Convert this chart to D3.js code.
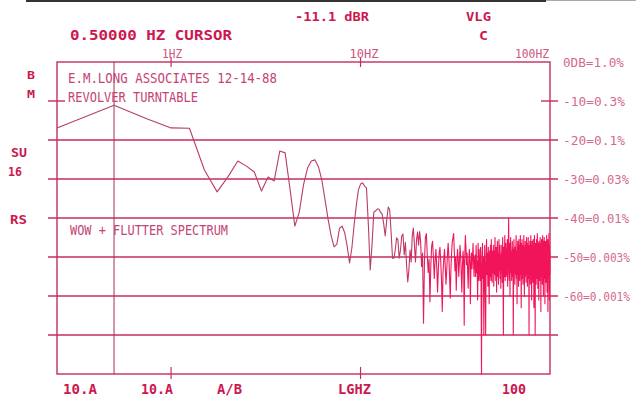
<!DOCTYPE html>
<html>
<head>
<meta charset="utf-8">
<script src="https://cdn.jsdelivr.net/npm/d3@7"></script>
<style>
  body { margin: 0; background: #fff; }
  svg { display: block; }
  text { font-family: "DejaVu Sans Mono", monospace; }
</style>
</head>
<body>
<svg id="chart" width="636" height="400"></svg>
<script>
// spectrum: one level per 0.25 Hz FFT bin, from 0.25 Hz to 100 Hz (dB re. 1.0%)
const binHz = 0.25;
const levelDb = [
  -16.9, -11.1, -14.6, -16.9, -17.0, -27.7, -33.3, -29.4, -25.4, -26.7,
  -28.2, -33.1, -29.5, -30.5, -22.8, -23.3, -32.8, -42.1, -38.5, -31.5,
  -27.2, -25.4, -25.1, -26.9, -30.3, -35.4, -40.5, -44.6, -47.4, -46.7,
  -42.6, -42.1, -43.8, -47.2, -51.5, -47.7, -41.8, -36.7, -32.8, -31.3,
  -31.0, -31.8, -32.3, -41.8, -53.3, -46.9, -38.5, -38.2, -37.7, -37.7,
  -38.5, -39.0, -41.5, -44.6, -40.5, -37.2, -37.9, -43.6, -50.3, -50.3,
  -48.2, -45.1, -45.6, -50.3, -48.2, -44.6, -44.1, -49.5, -46.2, -52.1,
  -56.4, -53.3, -48.2, -51.3, -44.6, -42.6, -46.9, -51.3, -45.6, -43.6,
  -47.0, -43.5, -46.0, -52.5, -49.0, -67.0, -51.0, -45.0, -44.0, -49.5,
  -54.0, -50.5, -61.5, -52.0, -47.0, -46.0, -50.0, -55.5, -51.0, -48.0,
  -52.5, -59.0, -53.0, -49.0, -47.5, -51.0, -56.0, -64.0, -54.0, -50.5,
  -48.0, -52.5, -57.0, -53.5, -49.5, -46.5, -50.0, -55.0, -60.5, -53.0,
  -49.0, -46.0, -45.0, -44.0, -48.5, -53.5, -50.0, -58.5, -52.0, -48.0,
  -50.5, -55.0, -51.5, -47.0, -49.5, -54.0, -59.0, -52.5, -48.5, -51.0,
  -67.5, -50.0, -44.5, -47.5, -52.0, -49.0, -53.5, -58.0, -51.5, -48.0,
  -50.5, -62.0, -52.0, -49.0, -53.0, -50.0, -46.5, -51.5, -55.0, -50.5,
  -49.5, -55.0, -47.0, -54.0, -51.0, -61.0, -46.5, -56.0, -48.0, -53.5,
  -56.0, -47.5, -54.5, -80.0, -51.0, -46.5, -55.5, -50.0, -70.0, -53.0,
  -47.0, -56.5, -70.0, -51.0, -45.5, -54.5, -49.0, -57.5, -47.5, -53.5,
  -62.0, -48.5, -55.0, -47.0, -56.0, -45.5, -53.0, -56.5, -48.5, -54.0,
  -47.0, -57.5, -48.5, -54.5, -45.0, -52.5, -56.0, -47.5, -59.0, -51.0,
  -46.0, -55.0, -49.0, -57.0, -45.5, -53.5, -47.0, -55.5, -49.5, -58.0,
  -47.0, -54.0, -49.0, -56.5, -45.0, -53.0, -70.0, -47.5, -55.0, -49.5,
  -44.5, -56.0, -50.0, -46.5, -55.0, -48.0, -54.5, -45.5, -57.5, -49.5,
  -47.0, -40.0, -54.5, -56.0, -46.5, -60.0, -49.5, -45.0, -54.0, -48.5,
  -56.0, -50.0, -46.0, -55.0, -48.0, -70.0, -53.5, -45.5, -54.0, -47.5,
  -57.0, -47.5, -54.5, -49.0, -44.5, -55.5, -48.5, -62.0, -52.0, -46.0,
  -54.5, -48.0, -57.5, -45.5, -53.5, -47.0, -56.0, -49.5, -44.5, -54.5,
  -48.5, -63.0, -46.5, -53.5, -45.5, -55.5, -48.0, -57.0, -47.0, -54.0,
  -44.5, -53.0, -60.0, -47.5, -55.0, -46.0, -53.5, -47.0, -56.5, -49.5,
  -45.0, -54.5, -47.5, -57.5, -46.5, -53.5, -45.0, -55.5, -49.0, -70.0,
  -47.0, -54.5, -46.0, -53.0, -57.0, -48.5, -44.5, -54.0, -47.0, -61.0,
  -49.5, -46.0, -55.0, -48.0, -56.5, -45.5, -53.5, -47.0, -63.0, -52.0,
  -44.5, -54.5, -48.0, -70.0, -46.5, -54.0, -48.5, -57.0, -45.5, -53.5,
  -47.0, -55.5, -44.0, -52.5, -58.0, -46.5, -54.0, -48.5, -61.0, -46.0,
  -53.5, -47.5, -56.0, -49.0, -45.0, -54.5, -47.5, -64.0, -46.5, -53.5,
  -45.5, -55.0, -48.0, -57.0, -46.5, -44.5, -53.5, -47.5, -60.0, -46.0,
  -54.0, -48.5, -45.0, -55.5, -47.0, -62.0, -49.0, -46.0, -54.5, -47.5,
  -56.5, -46.0, -53.5, -44.5, -52.5, -59.0, -46.5, -54.0, -45.5, -64.0,
  -53.0, -46.5, -55.0, -48.0, -44.0, -53.5, -61.0, -47.0, -54.5, -49.0
];

const freqTicks = [1, 10, 100];
const freqTickLabels = ["1HZ", "10HZ", "100HZ"];
const dbTicks = [0, -10, -20, -30, -40, -50, -60];
const dbTickLabels = ["0DB=1.0%", "-10=0.3%", "-20=0.1%", "-30=0.03%", "-40=0.01%", "-50=0.003%", "-60=0.001%"];
const gridDb = [-20, -30, -40, -50, -60, -70];
const cursorHz = 0.5;

const svg = d3.select("#chart");
const grid = "#c42e5e";
const pink = "#cc5582";
const red = "#cc1850";

const x = d3.scaleLog().domain([0.25, 100]).range([57, 550]);
const y = d3.scaleLinear().domain([0, -80]).range([62, 374]);

// scan edge at the top
svg.append("rect").attr("x", 26).attr("y", 0).attr("width", 520).attr("height", 2).attr("fill", "#333");
svg.append("rect").attr("x", 546).attr("y", 0).attr("width", 90).attr("height", 1).attr("fill", "#aaa");

// gridlines
svg.selectAll(".grid")
  .data(gridDb)
  .enter()
  .append("line")
  .attr("x1", 48).attr("x2", 558)
  .attr("y1", d => y(d)).attr("y2", d => y(d))
  .attr("stroke", grid).attr("stroke-width", 1.4);

// -10 dB only has short ticks
[[48, 65], [541, 558]].forEach(s => {
  svg.append("line")
    .attr("x1", s[0]).attr("x2", s[1])
    .attr("y1", y(-10)).attr("y2", y(-10))
    .attr("stroke", grid).attr("stroke-width", 1.4);
});

// frame
svg.append("rect")
  .attr("x", x(0.25)).attr("y", y(0))
  .attr("width", x(100) - x(0.25)).attr("height", y(-80) - y(0))
  .attr("fill", "none").attr("stroke", grid).attr("stroke-width", 1.4);

// cursor
svg.append("line")
  .attr("x1", x(cursorHz)).attr("x2", x(cursorHz))
  .attr("y1", y(0)).attr("y2", y(-80))
  .attr("stroke", "#a83058").attr("stroke-width", 1);

// decade ticks on top and bottom
svg.selectAll(".ttick")
  .data(freqTicks.slice(0, 2))
  .enter()
  .append("line")
  .attr("x1", d => x(d)).attr("x2", d => x(d))
  .attr("y1", 57).attr("y2", 67)
  .attr("stroke", grid).attr("stroke-width", 1.2);
svg.selectAll(".btick")
  .data(freqTicks.slice(0, 2))
  .enter()
  .append("line")
  .attr("x1", d => x(d)).attr("x2", d => x(d))
  .attr("y1", 367).attr("y2", 379)
  .attr("stroke", grid).attr("stroke-width", 1.2);

// trace
const defs = svg.append("defs");
const grad = defs.append("linearGradient")
  .attr("id", "trace").attr("gradientUnits", "userSpaceOnUse")
  .attr("x1", x(0.25)).attr("x2", x(100)).attr("y1", 0).attr("y2", 0);
grad.append("stop").attr("offset", (x(16) - x(0.25)) / (x(100) - x(0.25))).attr("stop-color", "#b83c68");
grad.append("stop").attr("offset", (x(26) - x(0.25)) / (x(100) - x(0.25))).attr("stop-color", "#f2145a");

const line = d3.line()
  .x((d, i) => x((i + 1) * binHz))
  .y(d => y(d));

svg.append("path")
  .datum(levelDb)
  .attr("d", line)
  .attr("fill", "none")
  .attr("stroke", "url(#trace)")
  .attr("stroke-width", 1.1)
  .attr("stroke-linejoin", "round");

// text helper
function label(str, px, py, size, width, color, bold) {
  const t = svg.append("text")
    .text(str)
    .attr("x", px).attr("y", py)
    .attr("font-size", size)
    .attr("fill", color)
    .attr("font-weight", bold ? "bold" : "normal");
  if (width) t.attr("textLength", width).attr("lengthAdjust", "spacingAndGlyphs");
  return t;
}

// frequency labels
const freqLabelX = [x(1) - 9, x(10) - 11, x(100) - 35];
const freqLabelW = [20, 29, 34];
freqTickLabels.forEach((s, i) => label(s, freqLabelX[i], 58, 13, freqLabelW[i], pink, false));

// dB labels on the right
const dbLabelW = [61, 62, 62, 66, 66, 67, 67];
svg.selectAll(".dblab")
  .data(dbTicks)
  .enter()
  .append("text")
  .text((d, i) => dbTickLabels[i])
  .attr("x", 563)
  .attr("y", d => y(d) + 4.5)
  .attr("font-size", 11.5)
  .attr("textLength", (d, i) => dbLabelW[i])
  .attr("lengthAdjust", "spacingAndGlyphs")
  .attr("fill", "#d46a92");

// header
label("-11.1 dBR", 295, 21, 12, 74, red, true);
label("VLG", 466, 21, 12, 25, red, true);
label("C", 479, 40, 13, 9, red, true);
label("0.50000 HZ CURSOR", 70, 40, 13.5, 162, red, true);

// notes inside the plot
label("E.M.LONG ASSOCIATES  12-14-88", 68, 83, 14.5, 209, "#c44476", false);
label("REVOLVER TURNTABLE", 68, 102, 14.5, 130, "#c44476", false);
label("WOW + FLUTTER SPECTRUM", 70, 235, 14.5, 158, "#c44476", false);

// left side labels
label("B", 27, 79, 11, 8, red, true);
label("M", 27, 98, 11, 8, red, true);
label("SU", 11, 157, 13, 16, red, true);
label("16", 8, 176, 13, 14, red, true);
label("RS", 10, 224, 13, 17, red, true);

// bottom labels
label("10.A", 63, 394, 14, 34, red, true);
label("10.A", 141, 394, 14, 32, red, true);
label("A/B", 217, 394, 14, 25, red, true);
label("LGHZ", 338, 394, 14, 33, red, true);
label("100", 502, 394, 14, 24, red, true);
</script>
</body>
</html>
